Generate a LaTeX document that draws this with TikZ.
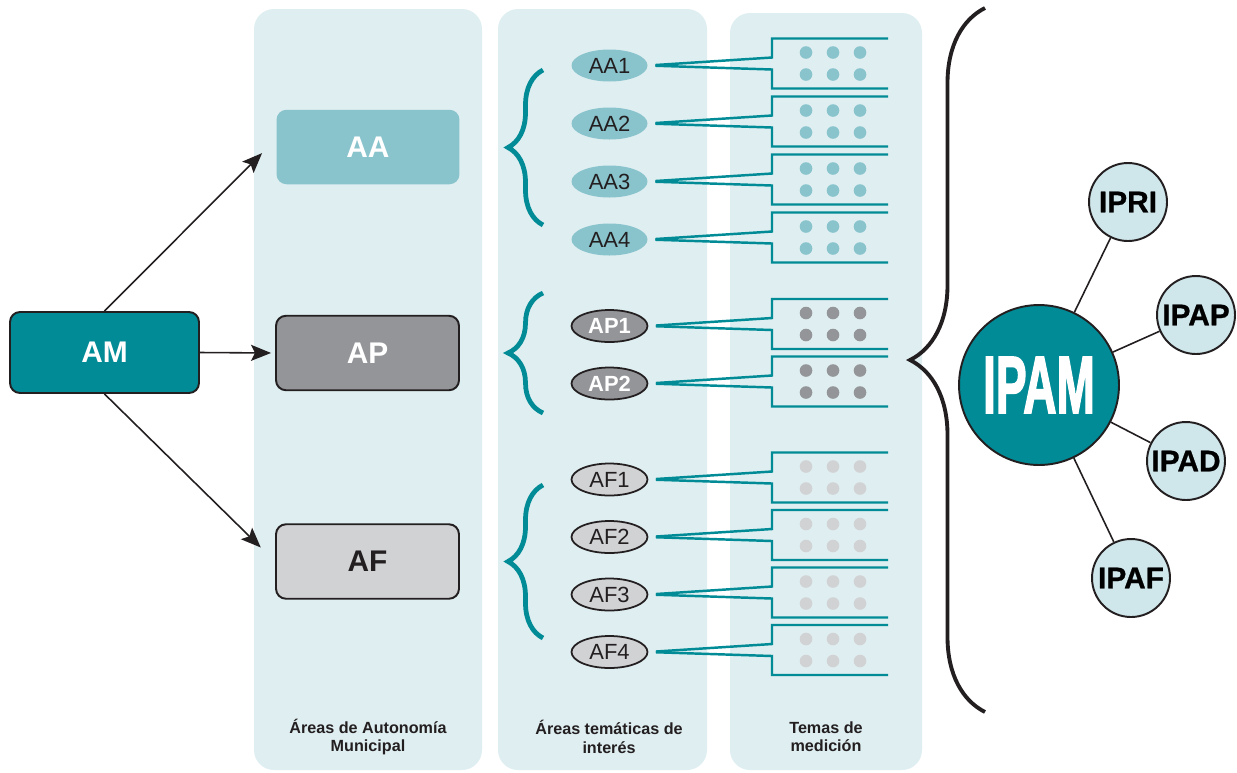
\documentclass[tikz,border=0pt]{standalone}
\usepackage{fontspec}
\setmainfont{Liberation Sans}
\newfontfamily\heavyfont[BoldFeatures={FakeBold=2.5}]{Liberation Sans}
\newfontfamily\indexfont[BoldFeatures={FakeBold=0.8}]{Liberation Sans}
\usepackage{graphicx}
\usetikzlibrary{arrows.meta,shapes.geometric,decorations.pathreplacing}

\definecolor{amteal}{HTML}{008B96}
\definecolor{aablue}{HTML}{89C4CD}
\definecolor{panelblue}{HTML}{DFEEF1}
\definecolor{apgray}{HTML}{939598}
\definecolor{afgray}{HTML}{D1D2D4}
\definecolor{ipblue}{HTML}{CFE7EB}
\definecolor{inkblack}{HTML}{231F20}

\begin{document}
\begin{tikzpicture}[
        x=0.02cm, y=-0.02cm,
        >={Stealth[length=0.4cm, width=0.32cm, inset=0.08cm]},
        panel/.style={
            fill=panelblue,
            rounded corners=0.4cm,
        },
        area/.style={
            rectangle,
            rounded corners=0.2cm,
            minimum width=3.66cm,
            minimum height=1.49cm,
            font=\fontsize{17}{19}\selectfont\bfseries,
        },
        bubble/.style={
            ellipse,
            minimum width=1.52cm,
            minimum height=0.64cm,
            inner sep=0pt,
            font=\fontsize{12.5}{13}\selectfont,
        },
        aabubble/.style={bubble, fill=aablue, text=inkblack},
        apbubble/.style={bubble, fill=apgray, draw=inkblack, line width=1pt, text=white, font=\fontsize{12.5}{13}\selectfont\bfseries},
        afbubble/.style={bubble, fill=afgray, draw=inkblack, line width=1pt, text=inkblack},
        fan/.style={
            draw=amteal,
            line width=1.4pt,
            shorten <=0.15cm,
        },
        tealbrace/.style={
            decorate,
            decoration={brace, amplitude=0.7cm},
            draw=amteal,
            line width=2.7pt,
        },
        index/.style={
            circle,
            draw=inkblack,
            line width=1.1pt,
            fill=ipblue,
            minimum size=1.56cm,
            inner sep=0pt,
            font=\fontsize{17}{18}\selectfont\indexfont\bfseries,
        },
        caption/.style={
            align=center,
            text=inkblack,
            font=\fontsize{9.2}{10.4}\selectfont\bfseries,
        },
    ]

    \useasboundingbox (0,0) rectangle (1237,772);

    % column panels
    \fill[panel] (254,9) rectangle (482,770);
    \fill[panel] (498,9) rectangle (707,770);
    \fill[panel] (730,13) rectangle (922,770);

    \node (capAreas) at (368,737) [caption] {Áreas de Autonomía\\Municipal};
    \node (capTemat) at (609,737) [caption] {Áreas temáticas de\\interés};
    \node (capTemas) at (826,737) [caption] {Temas de\\medición};

    % municipal autonomy
    \node (AM) at (104.5,352.5) [area, fill=amteal, draw=inkblack, line width=1.1pt, minimum width=3.78cm, minimum height=1.62cm, text=white] {AM};
    \node (AA) at (368,147) [area, fill=aablue, text=white] {AA};
    \node (AP) at (367.5,353) [area, fill=apgray, draw=inkblack, line width=1.1pt, text=white] {AP};
    \node (AF) at (367.5,561.5) [area, fill=afgray, draw=inkblack, line width=1.1pt, text=inkblack] {AF};

    \draw [->, line width=0.9pt, draw=inkblack, shorten >=0.4cm] (AM.north) -- (AA.175);
    \draw [->, line width=0.9pt, draw=inkblack, shorten >=0.08cm] (AM.east) -- (AP.west);
    \draw [->, line width=0.9pt, draw=inkblack, shorten >=0.4cm] (AM.south) -- (AF.west);

    % thematic areas and measurement topics
    \foreach \n/\r/\s/\c in {
        AA1/63.5/aabubble/aablue, AA2/121.5/aabubble/aablue,
        AA3/179.5/aabubble/aablue, AA4/237.5/aabubble/aablue,
        AP1/324/apbubble/apgray, AP2/381.5/apbubble/apgray,
        AF1/477.5/afbubble/afgray, AF2/535/afbubble/afgray,
        AF3/592.5/afbubble/afgray, AF4/650/afbubble/afgray}{
        \node (\n) at (609.5,\r+2) [\s] {\n};
        \draw[fan] (\n.east) -- (772,\r-6) |- (888,\r-25);
        \draw[fan] (\n.east) -- (772,\r+6) |- (888,\r+25);
        \foreach \dx in {806,833,860}{
            \fill[\c] (\dx,\r-11) circle[radius=0.126cm];
            \fill[\c] (\dx,\r+11) circle[radius=0.126cm];
        }
    }

    \draw[tealbrace] (543,225) -- (543,70);
    \draw[tealbrace] (543,413) -- (543,293);
    \draw[tealbrace] (543,638) -- (543,485);

    % index
    \draw[decorate, decoration={brace, amplitude=1.5cm}, draw=inkblack, line width=2.2pt] (985,712) -- (985,8);

    \node (IPAM) at (1039,385) [circle, fill=amteal, draw=inkblack, line width=1.1pt, minimum size=3.2cm, inner sep=0pt, text=white, font=\fontsize{46}{46}\selectfont\heavyfont\bfseries] {\scalebox{0.57}[1]{IPAM}};
    \node (IPRI) at (1128,202) [index] {IPRI};
    \node (IPAP) at (1196,315) [index] {IPAP};
    \node (IPAD) at (1186,461) [index] {IPAD};
    \node (IPAF) at (1131,578) [index] {IPAF};

    \draw [line width=0.9pt, draw=inkblack] (IPAM) -- (IPRI);
    \draw [line width=0.9pt, draw=inkblack] (IPAM) -- (IPAP);
    \draw [line width=0.9pt, draw=inkblack] (IPAM) -- (IPAD);
    \draw [line width=0.9pt, draw=inkblack] (IPAM) -- (IPAF);

\end{tikzpicture}
\end{document}
